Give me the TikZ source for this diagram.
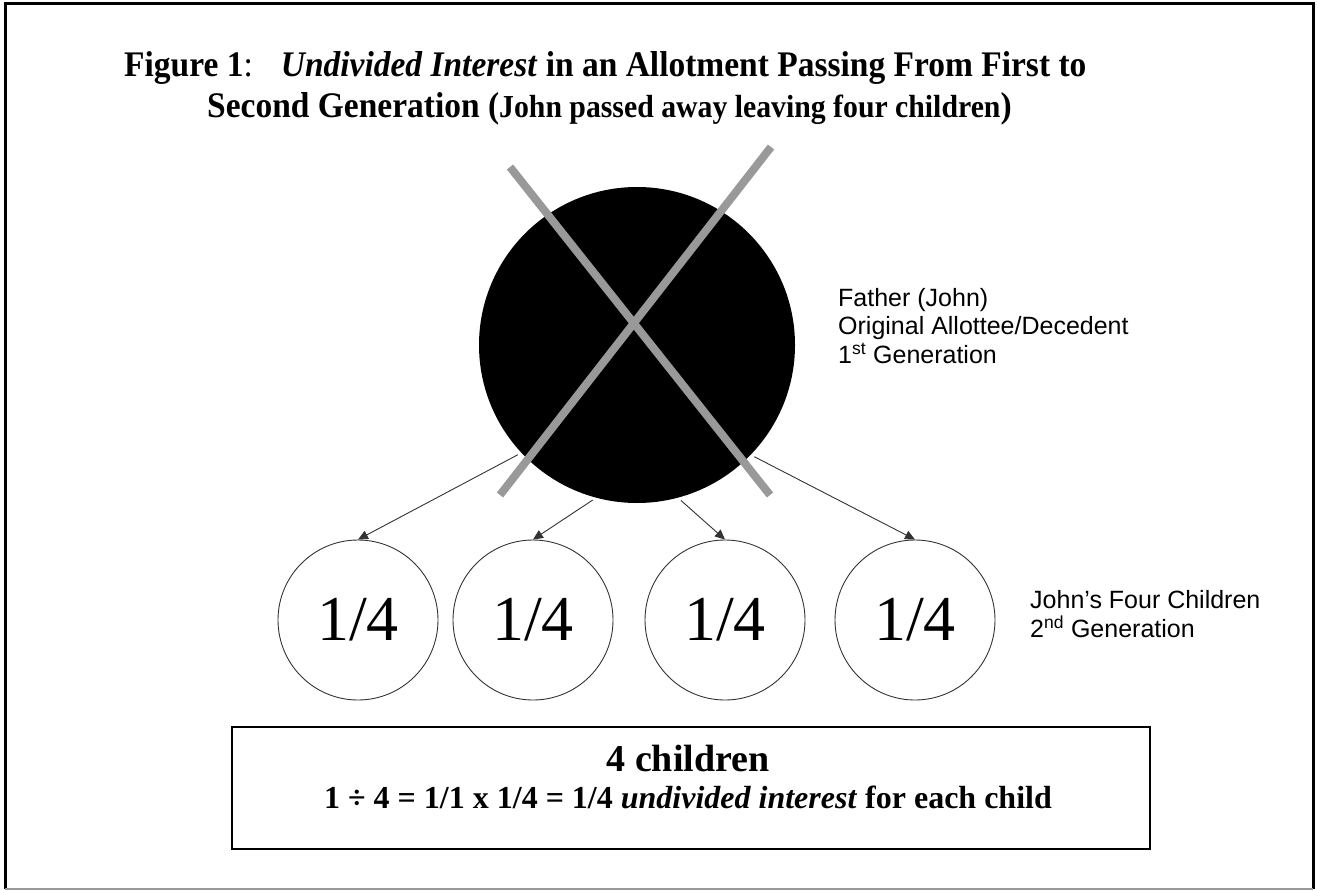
\documentclass[tikz,border=0pt]{standalone}
\usepackage{fontspec}
\setmainfont{Liberation Serif}
\newfontfamily\arialfont{Liberation Sans}
\newfontfamily\titlefont[FakeStretch=0.93]{Liberation Serif}
\usetikzlibrary{arrows.meta}

\begin{document}
\begin{tikzpicture}[
  x=1pt, y=-1pt,
  >={Triangle[length=10pt,width=9pt]},
  parent/.style={circle, fill=black, minimum size=316pt, inner sep=0},
  child/.style={circle, draw=black!80, line width=0.9pt, minimum size=160pt, inner sep=0, font=\fontsize{64}{64}\selectfont},
  share/.style={->, draw=black!80, line width=0.9pt, shorten <=4pt},
  cross/.style={draw=black!40, line width=8pt},
  sidenote/.style={anchor=west, inner sep=0, align=left, font=\arialfont\fontsize{25}{28.5}\selectfont},
  sumbox/.style={draw, line width=2pt, minimum width=918pt, minimum height=122pt},
  titletext/.style={anchor=base west, inner sep=0, font=\titlefont\bfseries\fontsize{36}{36}\selectfont}
]
\useasboundingbox (0,0) rectangle (1317,891);

% Frame
\draw[line width=3pt] (5,889) -- (5,4) -- (1313,4) -- (1313,889);
\draw[line width=1.5pt, black!40] (5,889) -- (1313,889);

% Title
\node[titletext] (title1) at (124,77) {Figure 1{\mdseries:}\hspace{28pt}\textit{Undivided Interest} in an Allotment Passing From First to};
\node[titletext] (title2) at (207,117) {Second Generation ({\fontsize{32}{32}\selectfont John passed away leaving four children})};

% Father
\node[parent] (father) at (637,345) {};
\coordinate (xa1) at (510,167);
\coordinate (xa2) at (770,495);
\coordinate (xb1) at (771,147);
\coordinate (xb2) at (500,495);
\draw[cross] (xa1) -- (xa2);
\draw[cross] (xb1) -- (xb2);
\node[sidenote] (fathernote) at (838,326) {Father (John)\\Original Allottee/Decedent\\1\textsuperscript{st} Generation};

% Children
\node[child] (child1) at (358,620) {1/4};
\node[child] (child2) at (533,620) {1/4};
\node[child] (child3) at (725,620) {1/4};
\node[child] (child4) at (915,620) {1/4};
\node[sidenote] (childnote) at (1030,614) {John’s Four Children\\2\textsuperscript{nd} Generation};

% Shares
\draw[share] (father.223) -- (child1.north);
\draw[share] (father.255) -- (child2.north);
\draw[share] (father.285) -- (child3.north);
\draw[share] (father.316) -- (child4.north);

% Summary
\node[sumbox] (sum) at (691,788) {};
\node[anchor=base, font=\bfseries\fontsize{38}{38}\selectfont] (sumhead) at (688,771) {4 children};
\node[anchor=base, font=\bfseries\fontsize{32}{32}\selectfont] (sumline) at (688,808) {1 ÷ 4 = 1/1 x 1/4 = 1/4 \textit{undivided interest} for each child};

\end{tikzpicture}
\end{document}
